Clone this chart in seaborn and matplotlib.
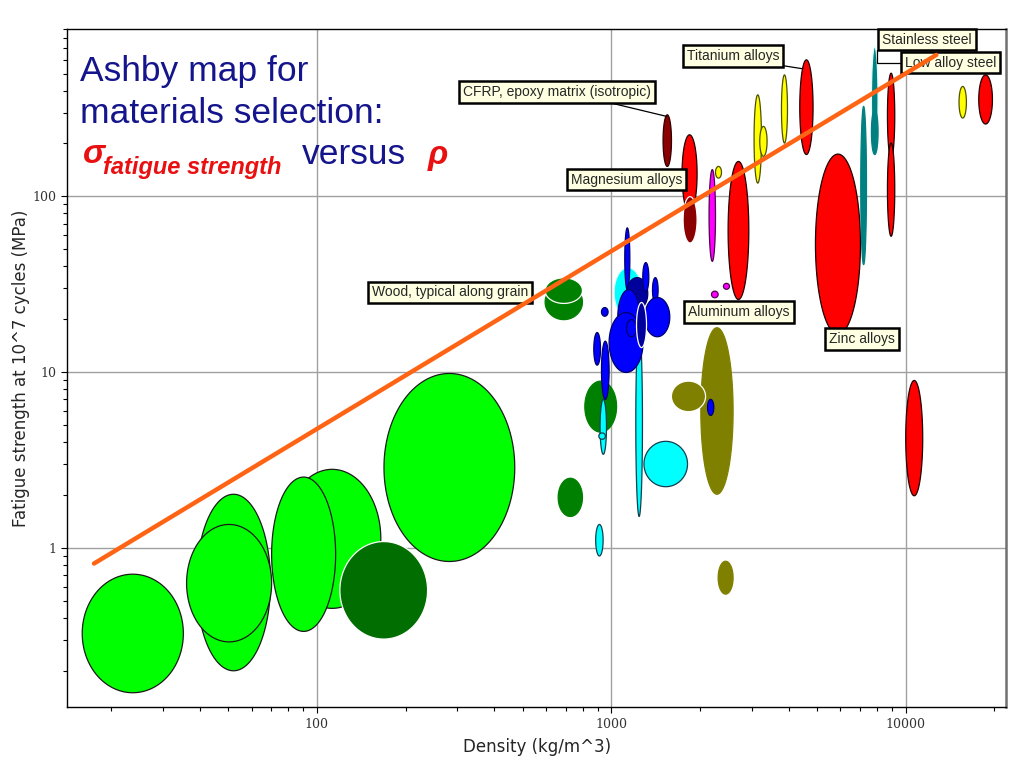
import numpy as np
import matplotlib
matplotlib.use("Agg")
import matplotlib.pyplot as plt
import matplotlib.ticker as mticker
import seaborn as sns

# --- Data: each bubble spans a density range and a fatigue strength range ---
family = [
    "foam", "foam", "foam", "foam", "foam", "foam", "cork",
    "wood", "wood_rim", "wood", "wood",
    "elastomer", "elastomer", "elastomer", "elastomer", "elastomer",
    "ceramic", "ceramic_rim", "ceramic", "polymer",
    "elastomer_rim", "polymer", "polymer_dark", "polymer", "polymer", "polymer",
    "polymer", "polymer", "polymer", "polymer_rim", "polymer", "polymer", "polymer",
    "cfrp", "metal", "metal_rim", "magenta", "yellow", "magenta", "magenta",
    "metal", "yellow", "yellow", "yellow", "metal", "metal",
    "stainless", "stainless_rim", "stainless", "metal", "metal",
    "yellow", "metal", "metal",
]
rho_lo = [
    15.96, 39.0, 36.1, 77.0, 70.2, 169, 119.7,
    596, 596, 813, 660,
    885, 1211, 916, 907, 1291,
    2014, 1600, 2306, 2122,
    1022, 1111, 1126, 1279, 1380, 1052,
    983, 1299, 1126, 1218, 872, 926, 926,
    1499, 1739, 1753, 2148, 2259, 2189, 2404,
    2493, 3054, 3193, 3784, 4366, 4936,
    7034, 7646, 7646, 8667, 8667,
    15170, 17700, 10000,
]
rho_hi = [
    35.2, 69.6, 70.2, 164.9, 115.8, 470, 237.7,
    798, 798, 1042, 798,
    938, 1276, 963, 955, 1815,
    2592, 2090, 2592, 2229,
    1270, 1156, 1330, 1341, 1442, 1250,
    1282, 1580, 1218, 1317, 919, 983, 975,
    1601, 1956, 1956, 2259, 2367, 2306, 2520,
    2931, 3236, 3381, 3966, 4844, 7018,
    7357, 8054, 8054, 9177, 9177,
    16070, 19700, 11420,
]
sig_lo = [
    0.150, 0.200, 0.292, 0.453, 0.335, 0.837, 0.303,
    19.9, 24.6, 4.56, 1.51,
    0.90, 1.51, 3.41, 4.15, 2.23,
    2.02, 5.96, 0.546, 5.67,
    20.5, 29.5, 22.7, 28.7, 24.9, 14.4,
    9.96, 15.9, 15.9, 13.8, 10.96, 7.0, 20.8,
    148, 80.8, 54.3, 42.7, 127, 26.5, 29.6,
    25.9, 119, 169, 201, 173, 16.4,
    40.9, 176, 173, 165, 59.3,
    279, 258, 1.98,
]
sig_hi = [
    0.709, 2.02, 1.36, 2.80, 2.53, 9.83, 1.087,
    31.5, 34.4, 8.89, 2.49,
    1.36, 17.5, 7.0, 4.51, 4.04,
    17.9, 8.89, 0.84, 7.0,
    39.3, 66.2, 34.5, 42.0, 34.5, 29.5,
    21.8, 26.6, 19.9, 24.9, 16.8, 15.0, 23.3,
    291, 224, 99.6, 142, 148, 28.9, 32.0,
    158, 378, 250, 491, 598, 174,
    325, 712, 311, 502, 201,
    422, 491, 8.97,
]

# guide line (sigma / rho = const)
guide_rho = [17.5, 12700]
guide_sig = [0.815, 638]

# material labels
label_text = ["CFRP, epoxy matrix (isotropic)", "Titanium alloys", "Stainless steel",
              "Low alloy steel", "Magnesium alloys", "Wood, typical along grain",
              "Aluminum alloys", "Zinc alloys"]
label_rho = [654, 2596, 11800, 14210, 1124, 284, 2714, 7090]
label_sig = [394, 626, 780, 577, 124.6, 28.4, 22.0, 15.4]

# leader lines
leader_rho = [[988, 1543], [3853, 4470], [9541, 7972, 7972]]
leader_sig = [[341, 285], [553, 532], [575, 575, 682]]

# --- Styles per family ---
styles = {
    "foam": ("#00ff00", "#1a1a1a"),
    "cork": ("#006e00", "white"),
    "wood": ("#008000", "#008000"),
    "wood_rim": ("#008000", "white"),
    "elastomer": ("#00ffff", "#104050"),
    "elastomer_rim": ("#00ffff", "#e0ffff"),
    "polymer": ("#0000ff", "#00006a"),
    "polymer_dark": ("#00009c", "#00006a"),
    "polymer_rim": ("#00009c", "white"),
    "ceramic": ("#808000", "#808000"),
    "ceramic_rim": ("#808000", "white"),
    "cfrp": ("#8b0000", "#300000"),
    "metal": ("#ff0000", "#200000"),
    "metal_rim": ("#8b0000", "white"),
    "magenta": ("#ff00ff", "#500050"),
    "yellow": ("#ffff00", "#505000"),
    "stainless": ("#008080", "#008080"),
    "stainless_rim": ("#008080", "#e0ffff"),
}


def ellipse(lo_x, hi_x, lo_y, hi_y, n=120):
    # ellipse in log-log space spanning the given ranges
    cx, rx = (np.log10(lo_x) + np.log10(hi_x)) / 2, (np.log10(hi_x) - np.log10(lo_x)) / 2
    cy, ry = (np.log10(lo_y) + np.log10(hi_y)) / 2, (np.log10(hi_y) - np.log10(lo_y)) / 2
    t = np.linspace(0, 2 * np.pi, n)
    return 10 ** (cx + rx * np.cos(t)), 10 ** (cy + ry * np.sin(t))


sns.set_style("white")
plt.rcParams["font.family"] = ["DejaVu Sans"]

fig = plt.figure(figsize=(10.24, 7.74), dpi=100)
ax = fig.add_axes([0.0657, 0.0862, 0.9167, 0.8768])
ax.set_xscale("log")
ax.set_yscale("log")
ax.set_xlim(14.2, 21900)
ax.set_ylim(0.124, 900)

for fam, x0, x1, y0, y1 in zip(family, rho_lo, rho_hi, sig_lo, sig_hi):
    face, edge = styles[fam]
    xs, ys = ellipse(x0, x1, y0, y1)
    ax.fill(xs, ys, facecolor=face, edgecolor=edge, linewidth=0.9, zorder=2)

for lx, ly in zip(leader_rho, leader_sig):
    ax.plot(lx, ly, color="black", linewidth=0.9, zorder=3)

for txt, lx, ly in zip(label_text, label_rho, label_sig):
    ax.text(lx, ly, txt, ha="center", va="center", fontsize=10,
            family=["Liberation Sans", "DejaVu Sans"], zorder=4,
            bbox=dict(boxstyle="square,pad=0.28", facecolor="#ffffe1",
                      edgecolor="black", linewidth=1.8))

sns.lineplot(x=guide_rho, y=guide_sig, color="#ff6414", linewidth=3.2, ax=ax, zorder=5)

# axes / ticks
ax.grid(True, which="major", color="#a0a0a0", linewidth=1.0)
ax.set_axisbelow(True)
fmt = mticker.FuncFormatter(lambda v, p: f"{v:g}")
ax.xaxis.set_major_formatter(fmt)
ax.yaxis.set_major_formatter(fmt)
ax.xaxis.set_minor_formatter(mticker.NullFormatter())
ax.yaxis.set_minor_formatter(mticker.NullFormatter())
ax.tick_params(which="major", direction="out", length=4, width=0.8, color="black",
               labelsize=9, labelcolor="#333333", bottom=True, left=True)
ax.tick_params(which="minor", direction="out", length=3, width=0.8, color="black",
               bottom=True, left=True)
for lab in ax.get_xticklabels() + ax.get_yticklabels():
    lab.set_family("DejaVu Serif")
for s in ax.spines.values():
    s.set_color("black")
    s.set_linewidth(1.0)
ax.spines["right"].set_color("#707070")
ax.spines["right"].set_linewidth(1.8)

ax.set_xlabel("Density (kg/m^3)", fontsize=12)
ax.set_ylabel("Fatigue strength at 10^7 cycles (MPa)", fontsize=12)
ax.xaxis.set_label_coords(0.5, -0.046)
ax.yaxis.set_label_coords(-0.0397, 0.5)

# title inside the plot
navy = "#14148c"
red = "#e81010"
tfam = ["Liberation Sans", "DejaVu Sans"]
fig.text(0.0781, 0.8953, "Ashby map for", color=navy, fontsize=25.5, family=tfam, va="baseline")
fig.text(0.0781, 0.8407, "materials selection:", color=navy, fontsize=25.5, family=tfam, va="baseline")
fig.text(0.0808, 0.7894, "σ", color=red, fontsize=24, family=tfam, style="italic",
         weight="bold", va="baseline")
fig.text(0.1006, 0.7752, "fatigue strength", color=red, fontsize=17, family=tfam,
         style="italic", weight="bold", va="baseline")
fig.text(0.2946, 0.7881, "versus", color=navy, fontsize=25.5, family=tfam, va="baseline")
fig.text(0.418, 0.7881, "ρ", color=red, fontsize=24, family=tfam, style="italic",
         weight="bold", va="baseline")

fig.savefig("out.png", dpi=100)
